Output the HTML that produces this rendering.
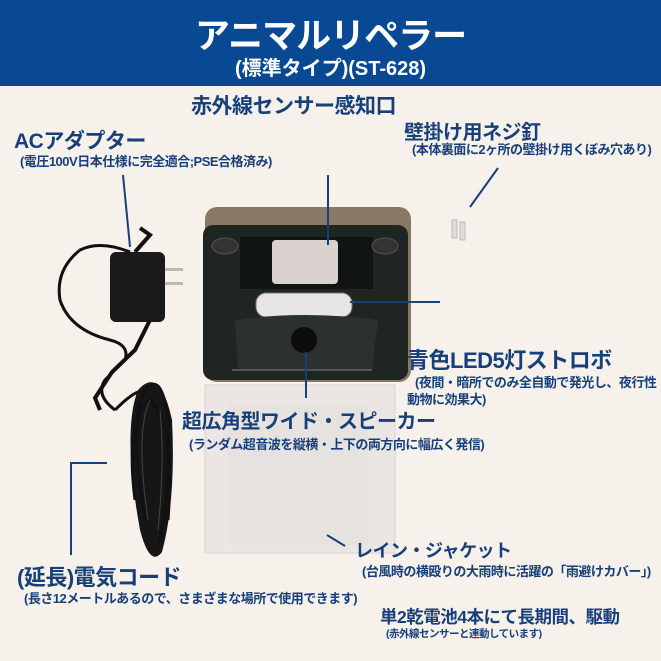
<!DOCTYPE html>
<html><head><meta charset="utf-8"><style>
body{margin:0;width:661px;height:661px;overflow:hidden;background:#f7f1ec;font-family:"Liberation Sans","Noto Sans CJK JP",sans-serif;position:relative}
.t{position:absolute;color:#17407a;white-space:nowrap;font-weight:bold;letter-spacing:-0.5px}
.s{position:absolute;color:#17407a;white-space:nowrap;font-weight:bold;font-size:13px;letter-spacing:-0.5px}
#hd{position:absolute;left:0;top:0;width:661px;height:86px;background:#094893}
</style></head><body>
<div id="hd">
<div style="position:absolute;left:0;width:661px;top:8px;text-align:center;color:#fff;font-weight:bold;font-size:35px;letter-spacing:-1px">アニマルリペラー</div>
<div style="position:absolute;left:0;width:661px;top:52px;text-align:center;color:#fff;font-weight:bold;font-size:20px">(標準タイプ)(ST-628)</div>
</div>
<svg width="661" height="661" style="position:absolute;left:0;top:0">
<rect x="205" y="385" width="190" height="168" fill="#ebe6e4" stroke="#d8d2d0"/>
<rect x="228" y="405" width="140" height="140" fill="#e3dfde" opacity=".6"/>
<rect x="205" y="207" width="206" height="175" rx="12" fill="#8a7866"/>
<rect x="203" y="225" width="205" height="155" rx="10" fill="#1f2622"/>
<rect x="240" y="237" width="133" height="52" fill="#101412"/>
<rect x="272" y="240" width="66" height="44" rx="4" fill="#d9d2cf"/>
<rect x="256" y="293" width="96" height="24" rx="10" fill="#e8e6e4" stroke="#777"/>
<ellipse cx="225" cy="246" rx="13" ry="8" fill="#333" stroke="#555"/>
<ellipse cx="385" cy="246" rx="13" ry="8" fill="#333" stroke="#555"/>
<path d="M235 320 Q305 310 378 320 L372 370 L238 370 Z" fill="#2b322d"/>
<circle cx="304" cy="340" r="13" fill="#0c0c0c"/>
<line x1="232" y1="370" x2="372" y2="370" stroke="#555" stroke-width="2"/>
<rect x="110" y="252" width="55" height="70" rx="6" fill="#1a1a1a"/>
<rect x="165" y="268" width="18" height="3" fill="#bba"/><rect x="165" y="282" width="18" height="3" fill="#bba"/>
<path d="M130 252 Q100 240 80 250 Q55 270 60 300 Q70 330 110 340 Q130 345 125 360 L105 380 Q95 395 115 410" stroke="#111" stroke-width="3" fill="none"/>
<path d="M135 252 L150 235 L140 228" stroke="#111" stroke-width="4" fill="none"/>
<path d="M150 320 L135 350 L112 372 L95 398 L100 410" stroke="#111" stroke-width="4" fill="none"/>
<path d="M140 530 Q122 430 138 390 Q160 365 172 420 Q176 500 162 552 Q150 568 140 530 Z" fill="#161616"/>
<g stroke="#111" stroke-width="3" fill="none">
<path d="M145 520 Q128 420 145 390 Q162 370 168 420 Q170 500 158 545"/>
<path d="M135 500 Q125 420 150 400 Q175 420 168 520"/>
<path d="M115 410 Q130 395 138 392"/>
</g>
<g stroke="#444" stroke-width="1" fill="none">
<path d="M148 520 Q135 430 150 400"/><path d="M158 530 Q165 460 160 410"/>
</g>
<rect x="452" y="220" width="5" height="18" fill="#ddd" stroke="#bbb"/>
<rect x="460" y="222" width="5" height="18" fill="#ddd" stroke="#bbb"/>
<g stroke="#17407a" stroke-width="2" fill="none">
<line x1="123" y1="175" x2="130" y2="247"/>
<line x1="328" y1="175" x2="328" y2="245"/>
<line x1="498" y1="168" x2="470" y2="207"/>
<line x1="350" y1="302" x2="440" y2="302"/>
<line x1="306" y1="352" x2="306" y2="398"/>
<polyline points="107,463 71,463 71,555"/>
<line x1="327" y1="535" x2="345" y2="546"/>
</g>
</svg>
<div class="t" style="left:191px;top:90px;font-size:21px">赤外線センサー感知口</div>
<div class="t" style="left:14px;top:125px;font-size:21px">ACアダプター</div>
<div class="s" style="left:20px;top:151px">(電圧100V日本仕様に完全適合;PSE合格済み)</div>
<div class="t" style="left:404px;top:116px;font-size:20px">壁掛け用ネジ釘</div>
<div class="s" style="left:412px;top:139px">(本体裏面に2ヶ所の壁掛け用くぼみ穴あり)</div>
<div class="t" style="left:407px;top:343px;font-size:22px">青色LED5灯ストロボ</div>
<div class="s" style="left:415px;top:372px">(夜間・暗所でのみ全自動で発光し、夜行性</div>
<div class="s" style="left:407px;top:389px">動物に効果大)</div>
<div class="t" style="left:182px;top:405px;font-size:20px">超広角型ワイド・スピーカー</div>
<div class="s" style="left:189px;top:434px">(ランダム超音波を縦横・上下の両方向に幅広く発信)</div>
<div class="t" style="left:355px;top:537px;font-size:18px">レイン・ジャケット</div>
<div class="s" style="left:362px;top:561px">(台風時の横殴りの大雨時に活躍の「雨避けカバー」)</div>
<div class="t" style="left:17px;top:560px;font-size:22px">(延長)電気コード</div>
<div class="s" style="left:24px;top:588px">(長さ12メートルあるので、さまざまな場所で使用できます)</div>
<div class="t" style="left:380px;top:604px;font-size:17.5px">単2乾電池4本にて長期間、駆動</div>
<div class="s" style="left:386px;top:626px;font-size:10.5px">(赤外線センサーと連動しています)</div>
</body></html>
